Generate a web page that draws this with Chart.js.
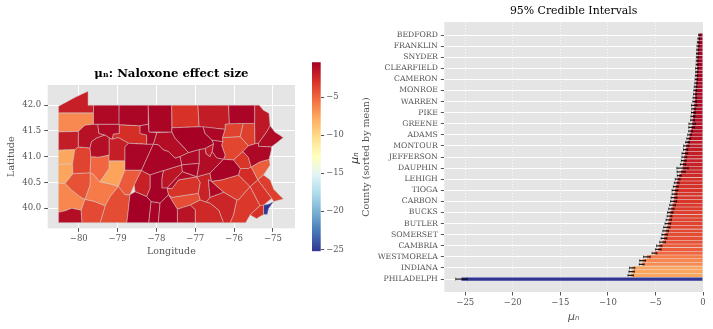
<!DOCTYPE html>
<html>
<head>
<meta charset="utf-8">
<script src="https://cdn.jsdelivr.net/npm/chart.js@4"></script>
<style>
  html, body { margin: 0; padding: 0; background: #fff; }
  #page { position: relative; width: 713px; height: 329px; overflow: hidden; }
  canvas { position: absolute; }
</style>
</head>
<body>
<div id="page">
  <canvas id="mapChart" width="305" height="225" style="left:0;top:50px"></canvas>
  <canvas id="barChart" width="358" height="329" style="left:355px;top:0"></canvas>
  <canvas id="cbarChart" width="70" height="215" style="left:300px;top:50px"></canvas>
</div>
<script>
// counties sorted by posterior mean, only every third one is labelled
const countyNames = ['BEDFORD','HUNTINGDON','LYCOMING','FRANKLIN','SCHUYLKILL','CENTRE','SNYDER','FULTON','COLUMBIA','CLEARFIELD','SUSQUEHANN','POTTER','CAMERON','MCKEAN','SULLIVAN','MONROE','LEBANON','UNION','WARREN','FOREST','JUNIATA','PIKE','NORTHUMBER','CLINTON','GREENE','CLARION','VENANGO','ADAMS','MIFFLIN','WAYNE','MONTOUR','BRADFORD','MERCER','JEFFERSON','ERIE','BLAIR','DAUPHIN','LANCASTER','YORK','LEHIGH','ELK','DELAWARE','TIOGA','PERRY','MONTGOMERY','CARBON','CHESTER','BERKS','BUCKS','LACKAWANNA','WYOMING','BUTLER','LUZERNE','FAYETTE','SOMERSET','CUMBERLAND','ALLEGHENY','CAMBRIA','NORTHAMPTO','ARMSTRONG','WESTMORELA','WASHINGTON','CRAWFORD','INDIANA','BEAVER','LAWRENCE','PHILADELPH'];
const countyMeans = [-0.39,-0.45,-0.5,-0.53,-0.56,-0.58,-0.6,-0.61,-0.62,-0.63,-0.65,-0.68,-0.7,-0.73,-0.78,-0.81,-0.84,-0.86,-0.88,-0.93,-0.98,-1.02,-1.06,-1.1,-1.13,-1.2,-1.3,-1.41,-1.5,-1.62,-1.76,-1.83,-1.9,-1.97,-2.03,-2.1,-2.15,-2.3,-2.5,-2.67,-2.77,-2.87,-2.95,-3.0,-3.05,-3.09,-3.2,-3.33,-3.44,-3.52,-3.6,-3.69,-3.8,-3.92,-4.04,-4.1,-4.25,-4.6,-4.7,-5.1,-5.9,-6.35,-6.45,-7.45,-7.5,-7.6,-25.4];
const countyErrs = [0.08,0.08,0.09,0.1,0.1,0.1,0.1,0.1,0.1,0.15,0.12,0.12,0.13,0.13,0.14,0.15,0.15,0.18,0.18,0.28,0.2,0.2,0.2,0.2,0.35,0.3,0.2,0.2,0.2,0.2,0.28,0.22,0.3,0.25,0.25,0.28,0.6,0.42,0.2,0.25,0.25,0.25,0.3,0.25,0.3,0.32,0.3,0.28,0.28,0.25,0.28,0.3,0.33,0.3,0.28,0.3,0.3,0.28,0.28,0.25,0.35,0.3,0.25,0.28,0.28,0.28,0.6];
const lonTicks = [-80,-79,-78,-77,-76,-75];
const latTicks = [40,40.5,41,41.5,42];
const cbarTicks = [-25,-20,-15,-10,-5];
const muTicks = [-25,-20,-15,-10,-5,0];
const colorStops = ['#313695','#4575b4','#74add1','#abd9e9','#e0f3f8','#ffffbf','#fee090','#fdae61','#f46d43','#d73027','#a50026'];
const cbarMin = -25.26, cbarMax = -0.4;

// county outlines, [lon, lat]
const ADAMS = [[-77.46,39.98],[-77.13,40.06],[-77,39.97],[-77,39.72],[-77.46,39.72]];
const ALLEGHENY = [[-80.35,40.48],[-80.15,40.67],[-79.71,40.69],[-79.71,40.45],[-79.84,40.17],[-79.97,40.225],[-80.18,40.35]];
const ARMSTRONG = [[-79.69,41],[-79.49,40.99],[-79.22,41.03],[-79.22,40.77],[-79.46,40.51],[-79.62,40.66],[-79.71,40.69]];
const BEAVER = [[-80.52,40.85],[-80.16,40.86],[-80.15,40.67],[-80.35,40.48],[-80.52,40.48]];
const BEDFORD = [[-78.76,39.72],[-78.68,40.26],[-78.55,40.32],[-78.25,40.225],[-78.14,40.13],[-78.2,39.72]];
const BERKS = [[-76.58,40.52],[-76.315,40.55],[-75.886,40.645],[-75.585,40.42],[-75.886,40.16],[-75.93,40.16],[-76.27,40.31]];
const BLAIR = [[-78.38,40.74],[-78.335,40.71],[-78.16,40.645],[-78.16,40.39],[-78.25,40.225],[-78.55,40.32],[-78.57,40.45]];
const BRADFORD = [[-76.93,42],[-76.14,42],[-76.12,41.64],[-76.23,41.63],[-76.23,41.53],[-76.9,41.58]];
const BUCKS = [[-75.39,40.55],[-75.24,40.645],[-75.07,40.55],[-74.98,40.37],[-74.73,40.18],[-74.98,40.13],[-75.03,40.19]];
const BUTLER = [[-80.1,41.14],[-80.01,41.19],[-79.71,41.17],[-79.69,41],[-79.71,40.69],[-80.15,40.67],[-80.16,40.86]];
const CAMBRIA = [[-78.81,40.74],[-78.38,40.74],[-78.57,40.45],[-78.68,40.26],[-78.81,40.26],[-78.98,40.42]];
const CAMERON = [[-78.42,41.6],[-78.21,41.63],[-78.19,41.48],[-77.99,41.47],[-78.08,41.24],[-78.25,41.24],[-78.25,41.42],[-78.42,41.45]];
const CARBON = [[-76.015,40.935],[-75.77,41.1],[-75.63,40.985],[-75.56,40.8],[-75.63,40.77],[-75.84,40.77]];
const CENTRE = [[-78.38,40.74],[-78.08,41.24],[-77.95,41.23],[-77.82,41.13],[-77.69,41.1],[-77.52,40.97],[-77.39,41],[-77.35,40.84],[-77.82,40.73],[-78.16,40.645],[-78.335,40.71]];
const CHESTER = [[-75.93,40.16],[-75.886,40.16],[-75.585,40.42],[-75.33,40.05],[-75.585,39.87],[-75.7,39.72],[-76.1,39.72],[-76.015,39.87]];
const CLARION = [[-79.67,41.29],[-79.54,41.36],[-79.32,41.42],[-79.22,41.37],[-79.22,41.03],[-79.49,40.99],[-79.69,41],[-79.71,41.17]];
const CLEARFIELD = [[-78.81,41.19],[-78.72,41.26],[-78.25,41.24],[-78.08,41.24],[-78.38,40.74],[-78.81,40.74]];
const CLINTON = [[-77.99,41.47],[-77.6,41.48],[-77.52,41.36],[-77.17,41.08],[-77.39,41],[-77.52,40.97],[-77.69,41.1],[-77.82,41.13],[-77.95,41.23],[-78.08,41.24]];
const COLUMBIA = [[-76.57,41.32],[-76.29,41.29],[-76.32,41.225],[-76.23,41.03],[-76.27,40.95],[-76.45,40.98],[-76.56,41.1],[-76.53,41.25]];
const CRAWFORD = [[-80.52,41.85],[-79.62,41.85],[-79.62,41.63],[-79.84,41.61],[-80.01,41.49],[-80.52,41.48]];
const CUMBERLAND = [[-77.69,40.26],[-77.6,40.21],[-76.92,40.29],[-76.87,40.16],[-77.13,40.06],[-77.46,39.98]];
const DAUPHIN = [[-76.96,40.61],[-76.62,40.68],[-76.58,40.52],[-76.66,40.55],[-76.62,40.21],[-76.72,40.12],[-76.87,40.16],[-76.92,40.29],[-76.87,40.5]];
const DELAWARE = [[-75.585,39.87],[-75.33,40.05],[-75.24,40.06],[-75.24,39.88],[-75.42,39.8]];
const ELK = [[-78.96,41.62],[-78.42,41.6],[-78.42,41.45],[-78.25,41.42],[-78.25,41.24],[-78.72,41.26],[-78.98,41.37],[-79.14,41.34],[-79.11,41.44],[-78.96,41.45]];
const ERIE = [[-80.52,41.85],[-80.52,41.98],[-80.1,42.15],[-79.76,42.27],[-79.76,42],[-79.62,42],[-79.62,41.85]];
const FAYETTE = [[-79.94,39.96],[-79.84,40.17],[-79.6,40.13],[-79.32,40.045],[-79.45,39.72],[-79.92,39.72]];
const FOREST = [[-79.51,41.63],[-78.96,41.63],[-78.96,41.45],[-79.11,41.44],[-79.14,41.34],[-79.22,41.37],[-79.32,41.42],[-79.48,41.45]];
const FRANKLIN = [[-77.95,39.72],[-77.905,40.1],[-77.69,40.26],[-77.46,39.98],[-77.46,39.72]];
const FULTON = [[-78.2,39.72],[-78.14,40.13],[-77.905,40.1],[-77.95,39.72]];
const GREENE = [[-80.52,39.92],[-80.35,39.95],[-80.18,40],[-79.94,39.96],[-79.92,39.72],[-80.52,39.72]];
const HUNTINGDON = [[-78.16,40.645],[-77.82,40.73],[-77.86,40.58],[-77.86,40.39],[-77.73,40.39],[-77.69,40.26],[-77.905,40.1],[-78.14,40.13],[-78.25,40.225],[-78.16,40.39]];
const INDIANA = [[-79.22,40.92],[-78.81,40.92],[-78.81,40.74],[-78.98,40.42],[-79.2,40.47],[-79.46,40.51],[-79.22,40.77]];
const JEFFERSON = [[-79.22,41.37],[-79.14,41.34],[-78.98,41.37],[-78.72,41.26],[-78.81,41.19],[-78.81,40.92],[-79.22,40.92]];
const JUNIATA = [[-77.73,40.39],[-77.33,40.71],[-76.96,40.61],[-77.43,40.55],[-77.6,40.38]];
const LACKAWANNA = [[-75.76,41.645],[-75.47,41.645],[-75.46,41.25],[-75.63,41.21],[-75.84,41.39]];
const LANCASTER = [[-76.62,40.21],[-76.27,40.31],[-75.93,40.16],[-76.015,39.87],[-76.1,39.72],[-76.27,39.72],[-76.39,39.96],[-76.62,40.1],[-76.72,40.12]];
const LAWRENCE = [[-80.52,41.13],[-80.1,41.14],[-80.16,40.86],[-80.52,40.85]];
const LEBANON = [[-76.66,40.55],[-76.58,40.52],[-76.27,40.31],[-76.62,40.21]];
const LEHIGH = [[-75.84,40.77],[-75.63,40.77],[-75.56,40.8],[-75.39,40.55],[-75.585,40.42],[-75.886,40.645]];
const LUZERNE = [[-76.3,41.37],[-75.84,41.39],[-75.63,41.21],[-75.77,41.1],[-76.015,40.935],[-76.27,40.95],[-76.23,41.03],[-76.32,41.225],[-76.29,41.29]];
const LYCOMING = [[-77.6,41.48],[-77.6,41.56],[-76.9,41.58],[-76.8,41.58],[-76.75,41.45],[-76.57,41.32],[-76.53,41.25],[-76.745,41.16],[-76.9,41.14],[-77.17,41.08],[-77.52,41.36]];
const MCKEAN = [[-78.96,42],[-78.21,42],[-78.21,41.63],[-78.42,41.6],[-78.96,41.62]];
const MERCER = [[-80.52,41.48],[-80.01,41.49],[-80.01,41.19],[-80.1,41.14],[-80.52,41.13]];
const MIFFLIN = [[-77.82,40.73],[-77.35,40.84],[-77.33,40.71],[-77.73,40.39],[-77.86,40.39],[-77.86,40.58]];
const MONROE = [[-75.63,41.21],[-75.46,41.25],[-75.37,41.26],[-75.37,41.2],[-75.04,41.19],[-75.04,41.13],[-75.095,40.95],[-75.33,40.9],[-75.56,40.8],[-75.63,40.985],[-75.77,41.1]];
const MONTGOMERY = [[-75.585,40.42],[-75.39,40.55],[-75.03,40.19],[-75.24,40.06],[-75.33,40.05]];
const MONTOUR = [[-76.745,41.16],[-76.53,41.25],[-76.56,41.1],[-76.62,41],[-76.72,41.05]];
const NORTHAMPTO = [[-75.56,40.8],[-75.33,40.9],[-75.095,40.95],[-75.07,40.84],[-75.24,40.645],[-75.39,40.55]];
const NORTHUMBER = [[-76.9,41.14],[-76.745,41.16],[-76.72,41.05],[-76.62,41],[-76.56,41.1],[-76.45,40.98],[-76.27,40.95],[-76.62,40.68],[-76.96,40.61],[-76.9,40.87]];
const PERRY = [[-77.69,40.26],[-77.73,40.39],[-77.6,40.38],[-77.43,40.55],[-76.96,40.61],[-76.87,40.5],[-76.92,40.29],[-77.6,40.21]];
const PHILADELPH = [[-75.24,40.06],[-75.11,40.08],[-74.98,40.13],[-75.11,39.99],[-75.14,39.88],[-75.24,39.88]];
const PIKE = [[-75.07,41.6],[-74.95,41.48],[-74.73,41.37],[-74.88,41.28],[-75.04,41.19],[-75.37,41.2],[-75.37,41.26],[-75.16,41.48]];
const POTTER = [[-78.21,42],[-77.61,42],[-77.6,41.48],[-78.19,41.48]];
const SCHUYLKILL = [[-76.62,40.68],[-76.27,40.95],[-76.015,40.935],[-75.84,40.77],[-75.886,40.645],[-76.315,40.55],[-76.58,40.52]];
const SNYDER = [[-77.35,40.84],[-76.9,40.87],[-76.96,40.61],[-77.33,40.71]];
const SOMERSET = [[-79.32,40.045],[-79.19,40.225],[-78.98,40.42],[-78.81,40.26],[-78.68,40.26],[-78.76,39.72],[-79.45,39.72]];
const SULLIVAN = [[-76.8,41.58],[-76.23,41.53],[-76.3,41.37],[-76.29,41.29],[-76.57,41.32],[-76.75,41.45]];
const SUSQUEHANN = [[-76.14,42],[-75.47,42],[-75.47,41.645],[-75.76,41.645],[-76.12,41.64]];
const TIOGA = [[-77.61,42],[-76.93,42],[-76.9,41.58],[-77.6,41.56]];
const UNION = [[-77.39,41],[-77.17,41.08],[-76.9,41.14],[-76.9,40.87],[-77.35,40.84]];
const VENANGO = [[-80.01,41.49],[-79.84,41.61],[-79.62,41.63],[-79.51,41.63],[-79.48,41.45],[-79.32,41.42],[-79.54,41.36],[-79.67,41.29],[-79.71,41.17],[-80.01,41.19]];
const WARREN = [[-79.62,42],[-78.96,42],[-78.96,41.63],[-79.62,41.63]];
const WASHINGTON = [[-80.52,40.48],[-80.35,40.48],[-80.18,40.35],[-79.97,40.225],[-79.84,40.17],[-79.94,39.96],[-80.18,40],[-80.35,39.95],[-80.52,39.92]];
const WAYNE = [[-75.47,42],[-75.35,42],[-75.24,41.9],[-75.1,41.84],[-75.07,41.6],[-75.16,41.48],[-75.37,41.26],[-75.46,41.25],[-75.47,41.645]];
const WESTMORELA = [[-79.71,40.69],[-79.62,40.66],[-79.46,40.51],[-79.2,40.47],[-78.98,40.42],[-79.19,40.225],[-79.32,40.045],[-79.6,40.13],[-79.84,40.17],[-79.71,40.45]];
const WYOMING = [[-76.23,41.63],[-76.12,41.64],[-75.76,41.645],[-75.84,41.39],[-76.3,41.37],[-76.23,41.53]];
const YORK = [[-77.13,40.06],[-76.87,40.16],[-76.72,40.12],[-76.62,40.1],[-76.39,39.96],[-76.27,39.72],[-77,39.72],[-77,39.97]];

const countyShapes = { ADAMS, ALLEGHENY, ARMSTRONG, BEAVER, BEDFORD, BERKS, BLAIR, BRADFORD, BUCKS, BUTLER, CAMBRIA, CAMERON, CARBON, CENTRE, CHESTER, CLARION, CLEARFIELD, CLINTON, COLUMBIA, CRAWFORD, CUMBERLAND, DAUPHIN, DELAWARE, ELK, ERIE, FAYETTE, FOREST, FRANKLIN, FULTON, GREENE, HUNTINGDON, INDIANA, JEFFERSON, JUNIATA, LACKAWANNA, LANCASTER, LAWRENCE, LEBANON, LEHIGH, LUZERNE, LYCOMING, MCKEAN, MERCER, MIFFLIN, MONROE, MONTGOMERY, MONTOUR, NORTHAMPTO, NORTHUMBER, PERRY, PHILADELPH, PIKE, POTTER, SCHUYLKILL, SNYDER, SOMERSET, SULLIVAN, SUSQUEHANN, TIOGA, UNION, VENANGO, WARREN, WASHINGTON, WAYNE, WESTMORELA, WYOMING, YORK };

const SERIF = "'DejaVu Serif', serif";
const TICK_COLOR = '#555555';
const minusSign = v => String(v).replace('-', '\u2212');

function hexToRgb(h) {
  return [1, 3, 5].map(i => parseInt(h.slice(i, i + 2), 16));
}

function valueColor(v) {
  const t = Math.min(1, Math.max(0, (v - cbarMin) / (cbarMax - cbarMin))) * (colorStops.length - 1);
  const i = Math.min(colorStops.length - 2, Math.floor(t));
  const a = hexToRgb(colorStops[i]), b = hexToRgb(colorStops[i + 1]);
  const c = a.map((x, k) => Math.round(x + (b[k] - x) * (t - i)));
  return `rgb(${c[0]},${c[1]},${c[2]})`;
}

// grey ggplot panel behind the grid
const panelBg = {
  id: 'panelBg',
  beforeDraw(chart) {
    const { ctx, chartArea: a } = chart;
    ctx.save();
    ctx.fillStyle = '#e5e5e5';
    ctx.fillRect(a.left, a.top, a.width, a.height);
    ctx.restore();
  }
};

// matplotlib rotates the colorbar label upward, the library would turn it downward
const cbarLabel = {
  id: 'cbarLabel',
  afterDraw(chart) {
    const { ctx } = chart;
    ctx.save();
    ctx.translate(55, 108);
    ctx.rotate(-Math.PI / 2);
    ctx.fillStyle = '#333333';
    ctx.font = "italic 11px 'DejaVu Sans'";
    ctx.textAlign = 'center';
    ctx.textBaseline = 'middle';
    ctx.fillText('\u03bc\u2099', 0, 0);
    ctx.restore();
  }
};

// tension above zero keeps the library off its fast path, that one merges points per pixel column
const mapDatasets = countyNames.map((name, i) => {
  const pts = countyShapes[name].concat([countyShapes[name][0]]);
  return {
    label: name,
    data: pts.map(p => ({ x: p[0], y: p[1] })),
    showLine: true,
    fill: 'shape',
    tension: 0.0001,
    pointRadius: 0,
    borderWidth: 0.5,
    borderColor: '#d3cccc',
    backgroundColor: valueColor(countyMeans[i])
  };
});

new Chart(document.getElementById('mapChart'), {
  type: 'scatter',
  data: { datasets: mapDatasets },
  plugins: [panelBg],
  options: {
    responsive: false, animation: false, events: [],
    layout: { padding: { right: 10 } },
    plugins: {
      legend: { display: false }, tooltip: { enabled: false },
      title: {
        display: true, fullSize: false, text: '\u03bc\u2099: Naloxone effect size', color: '#000',
        font: { family: SERIF, size: 11.7, weight: 'bold' },
        padding: { top: 17, bottom: 4 }
      }
    },
    scales: {
      x: {
        min: -80.8, max: -74.43,
        afterFit: s => { s.height = 46.7; },
        afterBuildTicks: s => { s.ticks = lonTicks.map(v => ({ value: v })); },
        grid: { color: '#fff', lineWidth: 1, tickColor: TICK_COLOR, tickLength: 3.5 },
        border: { display: false },
        ticks: { color: TICK_COLOR, font: { family: SERIF, size: 8.5 }, padding: 2, maxRotation: 0, callback: minusSign },
        title: { display: true, text: 'Longitude', color: TICK_COLOR, font: { family: SERIF, size: 9.5 }, padding: { top: 0, bottom: 17.3 } }
      },
      y: {
        min: 39.61, max: 42.39,
        afterFit: s => { s.width = 47.7; },
        afterBuildTicks: s => { s.ticks = latTicks.map(v => ({ value: v })); },
        grid: { color: '#fff', lineWidth: 1, tickColor: TICK_COLOR, tickLength: 3.5 },
        border: { display: false },
        ticks: { color: TICK_COLOR, font: { family: SERIF, size: 8.5 }, padding: 3, callback: v => v.toFixed(1) },
        title: { display: true, text: 'Latitude', color: TICK_COLOR, font: { family: SERIF, size: 9.5 }, padding: { top: 6, bottom: 0 } }
      }
    }
  }
});

new Chart(document.getElementById('cbarChart'), {
  type: 'bar',
  data: {
    labels: ['mu'],
    datasets: [{
      data: [[cbarMin, cbarMax]],
      barPercentage: 1, categoryPercentage: 1, borderWidth: 0,
      backgroundColor(ctx) {
        const a = ctx.chart.chartArea;
        if (!a) return colorStops[0];
        const g = ctx.chart.ctx.createLinearGradient(0, a.bottom, 0, a.top);
        colorStops.forEach((c, i) => g.addColorStop(i / (colorStops.length - 1), c));
        return g;
      }
    }]
  },
  plugins: [cbarLabel],
  options: {
    responsive: false, animation: false, events: [],
    layout: { padding: { left: 12, top: 12.3, bottom: 13.7 } },
    plugins: { legend: { display: false }, tooltip: { enabled: false } },
    scales: {
      x: { display: false },
      y: {
        position: 'right', min: cbarMin, max: cbarMax,
        afterFit: s => { s.width = 49.3; },
        afterBuildTicks: s => { s.ticks = cbarTicks.map(v => ({ value: v })); },
        grid: { drawOnChartArea: false, tickColor: TICK_COLOR, tickLength: 3.5 },
        border: { display: false },
        ticks: { color: TICK_COLOR, font: { family: SERIF, size: 8.4 }, padding: 2, callback: minusSign }
      }
    }
  }
});

const rows = countyNames.map((_, i) => i);

new Chart(document.getElementById('barChart'), {
  type: 'bar',
  data: {
    datasets: [
      {
        label: 'mean',
        data: rows.map(i => ({ x: countyMeans[i], y: i })),
        backgroundColor: countyMeans.map(valueColor),
        barPercentage: 0.85, categoryPercentage: 1, order: 3
      },
      {
        label: 'ci',
        data: rows.map(i => ({ x: [countyMeans[i] - countyErrs[i], countyMeans[i] + countyErrs[i]], y: i })),
        backgroundColor: 'rgba(0,0,0,0.85)', barThickness: 0.6, order: 2
      },
      {
        type: 'scatter', label: 'ci low',
        data: rows.map(i => ({ x: countyMeans[i] - countyErrs[i], y: i })),
        pointStyle: 'line', rotation: 90, pointRadius: 1.5, borderColor: 'rgba(0,0,0,0.8)', borderWidth: 0.6, order: 1
      },
      {
        type: 'scatter', label: 'ci high',
        data: rows.map(i => ({ x: countyMeans[i] + countyErrs[i], y: i })),
        pointStyle: 'line', rotation: 90, pointRadius: 1.5, borderColor: 'rgba(0,0,0,0.8)', borderWidth: 0.6, order: 1
      }
    ]
  },
  plugins: [panelBg],
  options: {
    indexAxis: 'y',
    responsive: false, animation: false, events: [],
    layout: { padding: { right: 10 } },
    datasets: { bar: { grouped: false } },
    plugins: {
      legend: { display: false }, tooltip: { enabled: false },
      title: {
        display: true, fullSize: false, text: '95% Credible Intervals', color: '#000',
        font: { family: SERIF, size: 10.9, weight: 'normal' },
        padding: { top: 4.5, bottom: 4.5 }
      }
    },
    scales: {
      x: {
        type: 'linear', min: -27.2, max: 0,
        afterFit: s => { s.height = 37; },
        afterBuildTicks: s => { s.ticks = muTicks.map(v => ({ value: v })); },
        grid: { color: 'rgba(255,255,255,0.8)', lineWidth: 1, tickColor: TICK_COLOR, tickLength: 3.5 },
        border: { display: false, dash: [1, 2] },
        ticks: { color: TICK_COLOR, font: { family: SERIF, size: 8.5 }, padding: 2, maxRotation: 0, callback: minusSign },
        title: { display: true, text: '\u03bc\u2099', color: TICK_COLOR, font: { family: "'DejaVu Sans'", size: 11, style: 'italic' }, padding: { top: 0, bottom: 5 } }
      },
      y: {
        type: 'linear', reverse: true, min: -3.5, max: 69.5, offset: false,
        afterFit: s => { s.width = 89.3; },
        afterBuildTicks: s => { s.ticks = rows.filter(i => i % 3 === 0).map(v => ({ value: v })); },
        grid: { offset: false, color: '#fff', lineWidth: 1, tickColor: TICK_COLOR, tickLength: 3.5 },
        border: { display: false },
        ticks: { color: TICK_COLOR, font: { family: SERIF, size: 7.7 }, padding: 3, autoSkip: false, callback: v => countyNames[v] },
        title: { display: true, text: 'County (sorted by mean)', color: TICK_COLOR, font: { family: SERIF, size: 9.5 }, padding: { top: 6.3, bottom: 0 } }
      }
    }
  }
});
</script>
</body>
</html>
